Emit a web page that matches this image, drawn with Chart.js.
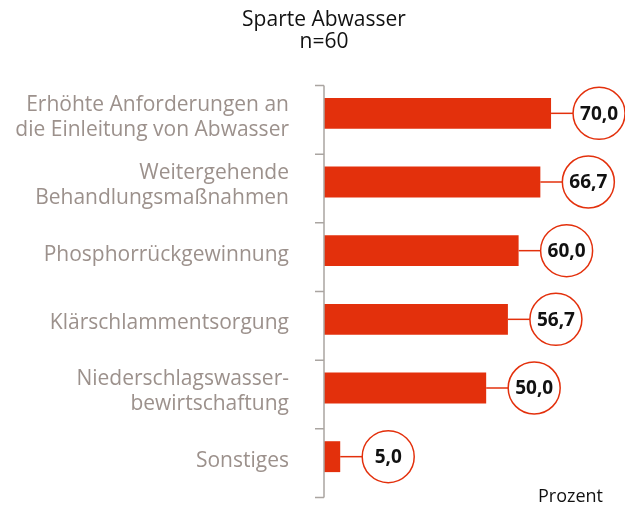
<!DOCTYPE html>
<html>
<head>
<meta charset="utf-8">
<script src="https://cdn.jsdelivr.net/npm/chart.js@4"></script>
<style>
  html, body { margin: 0; padding: 0; background: #fff; }
  #wrap { width: 625px; height: 506px; position: relative; }
</style>
</head>
<body>
<div id="wrap"><canvas id="chart"></canvas></div>
<script>
// ------------------- DATA -------------------
const categories = [
  ["Erhöhte Anforderungen an", "die Einleitung von Abwasser"],
  ["Weitergehende", "Behandlungsmaßnahmen"],
  "Phosphorrückgewinnung",
  "Klärschlammentsorgung",
  ["Niederschlagswasser-", "bewirtschaftung"],
  "Sonstiges"
];
const percentValues = [70.0, 66.7, 60.0, 56.7, 50.0, 5.0];
const titleLines = ["Sparte Abwasser", "n=60"];
const unitLabel = "Prozent";

const RED = "#e3300c";
const FONT = "'Open Sans', sans-serif";

// ------------------- PLUGINS -------------------
// title, axis line with tick marks between categories, unit label
const axisPlugin = {
  id: "axisLine",
  afterDraw(chart) {
    const c = chart.ctx;
    const y = chart.scales.y;
    const x0 = chart.chartArea.left;
    const step = y.getPixelForValue(1) - y.getPixelForValue(0);
    const shift = 6.5;
    const top = y.getPixelForValue(0) - step / 2 + shift;
    const bottom = y.getPixelForValue(categories.length - 1) + step / 2 + shift;
    c.save();
    c.strokeStyle = "#aaa5a1";
    c.lineWidth = 1.5;
    c.beginPath();
    c.moveTo(x0, top);
    c.lineTo(x0, bottom);
    for (let i = 0; i <= categories.length; i++) {
      const ty = top + i * step;
      c.moveTo(x0 - 9, ty);
      c.lineTo(x0, ty);
    }
    c.stroke();

    c.fillStyle = "#111";
    c.textBaseline = "middle";
    // title, centered over the axis
    c.font = "21px " + FONT;
    c.textAlign = "center";
    titleLines.forEach((t, i) => c.fillText(t, 324, 20 + i * 22));
    // unit label
    c.font = "18px " + FONT;
    c.textAlign = "right";
    c.fillText(unitLabel, 603, bottom - 1);
    c.restore();
  }
};

// value bubbles at the end of each bar
const bubblePlugin = {
  id: "bubbles",
  afterDatasetsDraw(chart) {
    const c = chart.ctx;
    const meta = chart.getDatasetMeta(0);
    c.save();
    meta.data.forEach((bar, i) => {
      const r = 26;
      const gap = 22;
      const cx = bar.x + gap + r;
      c.strokeStyle = RED;
      c.lineWidth = 1.5;
      c.beginPath();
      c.moveTo(bar.x, bar.y);
      c.lineTo(bar.x + gap, bar.y);
      c.stroke();
      c.beginPath();
      c.arc(cx, bar.y, r, 0, Math.PI * 2);
      c.fillStyle = "#fff";
      c.fill();
      c.stroke();
      c.fillStyle = "#111";
      c.font = "bold 19px " + FONT;
      c.textAlign = "center";
      c.textBaseline = "middle";
      c.fillText(percentValues[i].toFixed(1).replace(".", ","), cx, bar.y + 1);
    });
    c.restore();
  }
};

// ------------------- CHART -------------------
const ctx = document.getElementById("chart").getContext("2d");
new Chart(ctx, {
  type: "bar",
  data: {
    labels: categories,
    datasets: [{
      data: percentValues,
      backgroundColor: RED,
      borderWidth: 0,
      barPercentage: 0.45,
      categoryPercentage: 1
    }]
  },
  options: {
    indexAxis: "y",
    responsive: true,
    maintainAspectRatio: false,
    animation: false,
    layout: { padding: { top: 79, right: 0, bottom: 15, left: 0 } },
    scales: {
      x: {
        display: false,
        min: 0,
        max: 92.8
      },
      y: {
        grid: { display: false },
        border: { display: false },
        afterFit: s => {
          s.width = 324;
          s.paddingTop = 0;
          s.paddingBottom = 0;
        },
        ticks: {
          padding: 27,
          labelOffset: 4,
          color: "#9c918c",
          font: { family: FONT, size: 21, lineHeight: 1.19 }
        }
      }
    },
    plugins: {
      legend: { display: false },
      tooltip: { enabled: false },
      title: { display: false }
    }
  },
  plugins: [axisPlugin, bubblePlugin]
});
</script>
</body>
</html>
